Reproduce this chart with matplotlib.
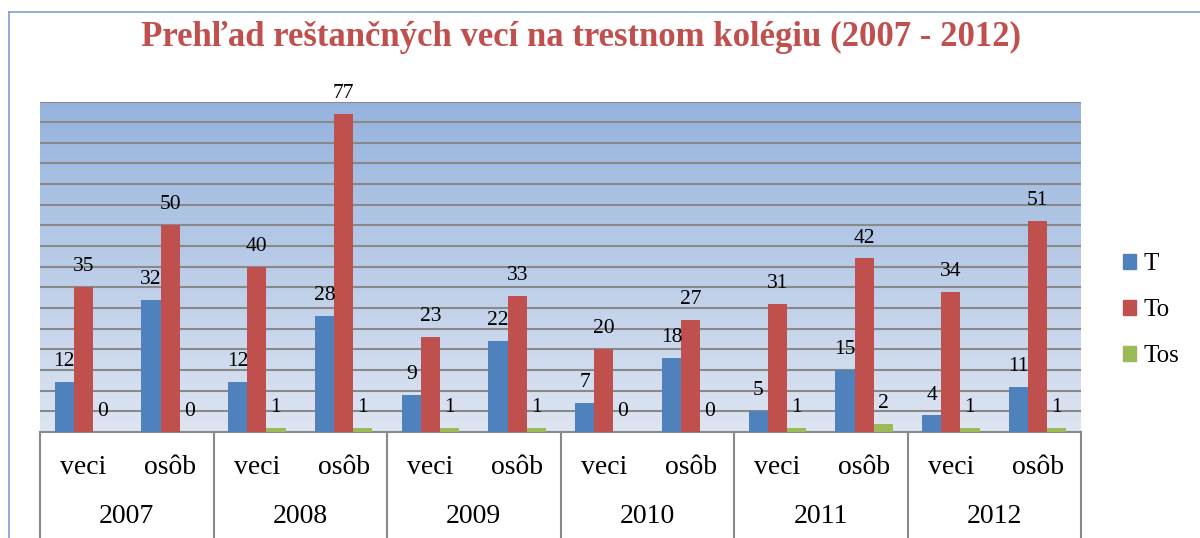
import numpy as np
import matplotlib
matplotlib.use("Agg")
import matplotlib.pyplot as plt
from matplotlib.patches import Patch

categories = ["veci", "osôb"] * 6
years = ["2007", "2008", "2009", "2010", "2011", "2012"]
series_names = ["T", "To", "Tos"]
T = [12, 32, 12, 28, 9, 22, 7, 18, 5, 15, 4, 11]
To = [35, 50, 40, 77, 23, 33, 20, 27, 31, 42, 34, 51]
Tos = [0, 0, 1, 1, 1, 1, 0, 0, 1, 2, 1, 1]
colors = ["#4F81BD", "#C0504D", "#9BBB59"]
title = "Prehľad reštančných vecí na trestnom kolégiu (2007 - 2012)"

serif = "Liberation Serif"
fig = plt.figure(figsize=(12, 5.38), dpi=100)
ax = fig.add_axes([40/1200, 106/538, 1041/1200, 330.5/538])

# gradient background
grad = np.linspace(0, 1, 256).reshape(-1, 1)
top = np.array([0x95, 0xB3, 0xDE]) / 255
bot = np.array([0xDE, 0xE5, 0xF2]) / 255
img = top * (1 - grad)[..., None] + bot * grad[..., None]
ax.imshow(img, extent=[0, 1, 0, 1], transform=ax.transAxes, aspect="auto", zorder=0)

x = np.arange(len(categories))
w = 0.22
for k, (vals, c) in enumerate(zip([T, To, Tos], colors)):
    pos = x + (k - 1) * w
    ax.bar(pos, vals, width=w, color=c, zorder=3, label=series_names[k])
    for px, v in zip(pos, vals):
        ax.annotate(str(v), (px, v), xytext=(0, 11.5), textcoords="offset points",
                    ha="center", va="baseline", fontsize=15.5, family=serif, zorder=4)

ax.set_xlim(-0.5, len(categories) - 0.5)
ax.set_ylim(0, 80)
ax.set_yticks(np.arange(5, 81, 5))
ax.yaxis.grid(True, color="#898989", linewidth=1.5, zorder=1)
ax.set_axisbelow(True)
ax.tick_params(left=False, labelleft=False, bottom=False, labelbottom=False)
for s in ["left", "right", "top"]:
    ax.spines[s].set_visible(False)
ax.spines["bottom"].set_color("#898989")
ax.spines["bottom"].set_linewidth(1.5)

tr = ax.get_xaxis_transform()
for b in np.arange(-0.5, len(categories), 2):
    ax.plot([b, b], [0, -0.5], transform=tr, color="#898989", lw=1.5, clip_on=False)
for i, c in enumerate(categories):
    ax.text(i, -0.108, c, transform=tr, ha="center", va="center", fontsize=20, family=serif)
for j, yv in enumerate(years):
    ax.text(2 * j + 0.5, -0.256, yv, transform=tr, ha="center", va="center", fontsize=20, family=serif)

fig.text(581/1200, 1 - 37/538, title, ha="center", va="center", fontsize=25,
         family=serif, weight="bold", color="#C0504D")

handles = [Patch(color=c, label=n) for c, n in zip(colors, series_names)]
fig.legend(handles=handles, loc="upper left", bbox_to_anchor=(1100/1200, 1 - 231/538),
           frameon=False, prop={"family": serif, "size": 18}, handlelength=0.55,
           handleheight=0.55, handletextpad=0.3, labelspacing=0.95)

# outer chart frame
fig.add_artist(plt.Line2D([9/1200, 9/1200], [0, 1 - 12/538], color="#7F9FCF", lw=1.2))
fig.add_artist(plt.Line2D([9/1200, 1], [1 - 12/538, 1 - 12/538], color="#7F9FCF", lw=1.2))

fig.savefig("out.png", dpi=100)
